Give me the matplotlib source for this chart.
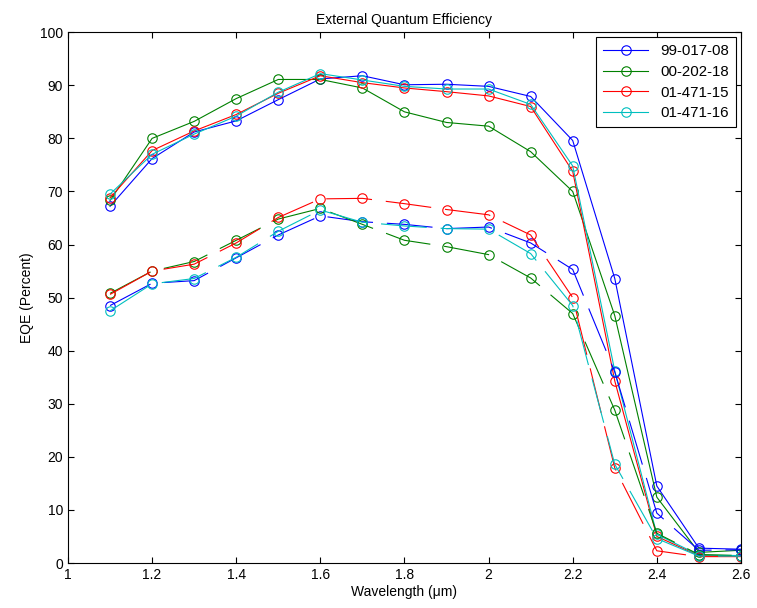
import numpy as np
import matplotlib
matplotlib.use("Agg")
import matplotlib.pyplot as plt

plt.rcParams["font.family"] = ["Liberation Sans", "DejaVu Sans"]
plt.rcParams["lines.scale_dashes"] = False

# Wavelength points (um)
wavelength = [1.1, 1.2, 1.3, 1.4, 1.5, 1.6, 1.7, 1.8, 1.9, 2.0, 2.1, 2.2, 2.3, 2.4, 2.5, 2.6]

labels = ["99-017-08", "00-202-18", "01-471-15", "01-471-16"]
colors = ["#0000ff", "#008000", "#ff0000", "#00bfbf"]

# Solid curves (upper set)
eqe_99_017_08 = [67.2, 76.2, 81.2, 83.3, 87.3, 91.2, 91.8, 90.1, 90.2, 89.8, 87.9, 79.6, 53.6, 14.5, 2.8, 2.6]
eqe_00_202_18 = [68.3, 80.0, 83.2, 87.5, 91.1, 91.1, 89.5, 85.0, 83.0, 82.3, 77.5, 70.0, 46.6, 12.4, 2.0, 2.4]
eqe_01_471_15 = [68.8, 77.7, 81.4, 84.5, 88.5, 91.8, 90.5, 89.5, 88.8, 88.0, 86.0, 73.8, 34.3, 5.0, 1.4, 1.3]
eqe_01_471_16 = [69.5, 77.0, 80.8, 84.2, 88.7, 92.2, 91.0, 89.8, 89.3, 89.3, 86.4, 74.8, 36.2, 5.4, 1.5, 1.4]

# Dashed curves (lower set)
eqe_99_017_08_b = [48.5, 52.7, 53.2, 57.5, 61.8, 65.4, 64.3, 63.8, 63.0, 63.3, 60.3, 55.3, 36.0, 9.4, 2.4, 2.5]
eqe_00_202_18_b = [50.8, 55.0, 56.8, 60.8, 64.8, 66.8, 63.8, 60.8, 59.6, 58.1, 53.7, 47.0, 28.8, 5.6, 1.6, 1.4]
eqe_01_471_15_b = [50.6, 55.0, 56.3, 60.3, 65.1, 68.6, 68.7, 67.7, 66.6, 65.6, 61.8, 50.0, 17.9, 2.3, 1.2, 1.2]
eqe_01_471_16_b = [47.5, 52.6, 53.6, 57.6, 62.5, 66.5, 64.2, 63.5, 63.0, 62.9, 58.3, 48.5, 18.6, 4.6, 1.3, 1.3]

solid = [eqe_99_017_08, eqe_00_202_18, eqe_01_471_15, eqe_01_471_16]
dashed = [eqe_99_017_08_b, eqe_00_202_18_b, eqe_01_471_15_b, eqe_01_471_16_b]

fig = plt.figure(figsize=(7.57, 6.08), dpi=100)
ax = fig.add_axes([0.0898, 0.074, 0.8890, 0.873])

for vals, lab, c in zip(solid, labels, colors):
    ax.plot(wavelength, vals, color=c, lw=0.8, marker="o", ms=6.8,
            mfc="none", mew=0.8, label=lab)
for vals, c in zip(dashed, colors):
    ax.plot(wavelength, vals, color=c, lw=0.8, marker="o", ms=6.8,
            mfc="none", mew=0.8, linestyle=(0, (33, 10)))

ax.set_xlim(1, 2.6)
ax.set_ylim(0, 100)
ax.set_xticks(np.arange(1, 2.61, 0.2))
ax.set_xticklabels(["1", "1.2", "1.4", "1.6", "1.8", "2", "2.2", "2.4", "2.6"])
ax.set_yticks(np.arange(0, 101, 10))
ax.tick_params(direction="in", top=True, right=True, length=4, width=0.8, labelsize=10)
for s in ax.spines.values():
    s.set_linewidth(0.8)

ax.set_title("External Quantum Efficiency", fontsize=10)
ax.set_xlabel("Wavelength (μm)", fontsize=10, labelpad=2)
ax.set_ylabel("EQE (Percent)", fontsize=10)

leg = ax.legend(loc="upper right", fontsize=10.8, fancybox=False, framealpha=1,
                edgecolor="black", borderaxespad=0.35, handlelength=3.0,
                labelspacing=0.45, borderpad=0.45)
leg.get_frame().set_linewidth(0.8)

fig.savefig("out.png", dpi=100, facecolor="white")
